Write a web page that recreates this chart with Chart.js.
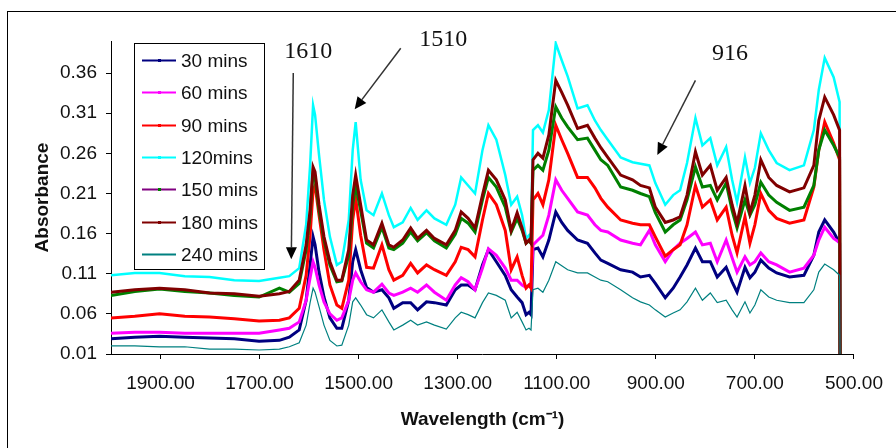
<!DOCTYPE html>
<html>
<head>
<meta charset="utf-8">
<title>Absorbance spectra</title>
<script src="https://cdn.jsdelivr.net/npm/chart.js@4.4.1/dist/chart.umd.min.js"></script>
<style>
  html, body { margin: 0; padding: 0; background: #fff; }
  #wrap { width: 896px; height: 448px; }
</style>
</head>
<body>
<div id="wrap"><canvas id="spectraChart" width="896" height="448"></canvas></div>
<script>
// wavenumbers (cm-1) of the sampled points, high to low; last point closes the trace at zero
const wavenumbers = [
    2000, 1952, 1902, 1851, 1801, 1751, 1701, 1660, 1640, 1620,
    1606, 1598, 1592, 1588, 1580, 1570, 1558, 1544, 1534, 1520,
    1512, 1506, 1496, 1484, 1470, 1453, 1439, 1429, 1411, 1395,
    1381, 1363, 1347, 1323, 1305, 1293, 1279, 1265, 1250, 1238,
    1222, 1204, 1192, 1180, 1170, 1162, 1156, 1152, 1148, 1138,
    1128, 1116, 1102, 1090, 1078, 1058, 1038, 1023, 1011, 997,
    971, 947, 931, 913, 901, 881, 865, 851, 837, 820,
    806, 790, 776, 758, 746, 736, 720, 710, 700, 688,
    672, 656, 630, 601, 581, 571, 559, 541, 529, 528
];

const abs30 = [
    0.029, 0.031, 0.032, 0.031, 0.030, 0.029, 0.026, 0.027, 0.031, 0.040,
    0.077, 0.121, 0.156, 0.146, 0.112, 0.081, 0.055, 0.042, 0.042, 0.077,
    0.125, 0.140, 0.115, 0.093, 0.087, 0.090, 0.080, 0.067, 0.074, 0.074,
    0.065, 0.075, 0.074, 0.071, 0.090, 0.096, 0.096, 0.090, 0.121, 0.140,
    0.125, 0.108, 0.090, 0.081, 0.074, 0.059, 0.062, 0.059, 0.140, 0.142,
    0.131, 0.152, 0.187, 0.174, 0.164, 0.152, 0.148, 0.136, 0.127, 0.123,
    0.115, 0.112, 0.106, 0.108, 0.098, 0.080, 0.092, 0.106, 0.121, 0.142,
    0.125, 0.125, 0.106, 0.118, 0.100, 0.087, 0.118, 0.105, 0.112, 0.127,
    0.117, 0.111, 0.106, 0.108, 0.133, 0.162, 0.177, 0.162, 0.148, 0
];
const abs60 = [
    0.036, 0.037, 0.037, 0.036, 0.036, 0.036, 0.036, 0.040, 0.042, 0.050,
    0.077, 0.105, 0.125, 0.118, 0.096, 0.075, 0.060, 0.052, 0.055, 0.077,
    0.102, 0.111, 0.100, 0.090, 0.087, 0.097, 0.086, 0.083, 0.087, 0.092,
    0.087, 0.096, 0.087, 0.077, 0.096, 0.105, 0.100, 0.090, 0.117, 0.141,
    0.133, 0.117, 0.102, 0.102, 0.096, 0.093, 0.096, 0.093, 0.146, 0.152,
    0.158, 0.183, 0.227, 0.214, 0.204, 0.187, 0.183, 0.171, 0.164, 0.162,
    0.152, 0.148, 0.146, 0.164, 0.146, 0.125, 0.140, 0.148, 0.154, 0.162,
    0.146, 0.148, 0.125, 0.152, 0.130, 0.112, 0.131, 0.121, 0.125, 0.136,
    0.125, 0.121, 0.112, 0.117, 0.133, 0.152, 0.168, 0.154, 0.149, 0
];
const abs90 = [
    0.055, 0.057, 0.060, 0.057, 0.056, 0.054, 0.051, 0.052, 0.055, 0.067,
    0.108, 0.158, 0.214, 0.220, 0.183, 0.140, 0.096, 0.071, 0.067, 0.102,
    0.177, 0.204, 0.158, 0.118, 0.117, 0.146, 0.115, 0.102, 0.108, 0.123,
    0.111, 0.121, 0.115, 0.108, 0.125, 0.143, 0.140, 0.131, 0.177, 0.210,
    0.196, 0.164, 0.115, 0.131, 0.108, 0.092, 0.096, 0.092, 0.202, 0.210,
    0.196, 0.227, 0.295, 0.277, 0.260, 0.230, 0.230, 0.217, 0.204, 0.193,
    0.177, 0.173, 0.171, 0.171, 0.156, 0.132, 0.140, 0.146, 0.171, 0.220,
    0.193, 0.202, 0.177, 0.193, 0.158, 0.136, 0.181, 0.148, 0.171, 0.210,
    0.189, 0.179, 0.173, 0.177, 0.218, 0.264, 0.299, 0.273, 0.252, 0
];
const abs120 = [
    0.108, 0.111, 0.111, 0.107, 0.106, 0.102, 0.101, 0.105, 0.107, 0.117,
    0.171, 0.245, 0.320, 0.308, 0.258, 0.202, 0.156, 0.121, 0.125, 0.177,
    0.264, 0.299, 0.227, 0.189, 0.183, 0.210, 0.183, 0.168, 0.174, 0.192,
    0.177, 0.189, 0.179, 0.171, 0.196, 0.230, 0.220, 0.210, 0.264, 0.295,
    0.277, 0.233, 0.196, 0.206, 0.183, 0.154, 0.158, 0.152, 0.289, 0.295,
    0.286, 0.314, 0.397, 0.376, 0.356, 0.316, 0.320, 0.301, 0.289, 0.277,
    0.255, 0.249, 0.247, 0.245, 0.223, 0.196, 0.208, 0.214, 0.248, 0.304,
    0.270, 0.279, 0.245, 0.268, 0.227, 0.199, 0.255, 0.223, 0.242, 0.285,
    0.264, 0.248, 0.239, 0.245, 0.289, 0.339, 0.379, 0.355, 0.324, 0
];
const abs150 = [
    0.083, 0.088, 0.091, 0.088, 0.086, 0.083, 0.081, 0.092, 0.087, 0.098,
    0.140, 0.183, 0.237, 0.230, 0.189, 0.152, 0.121, 0.100, 0.101, 0.133,
    0.196, 0.220, 0.189, 0.148, 0.142, 0.168, 0.142, 0.140, 0.148, 0.162,
    0.151, 0.161, 0.151, 0.142, 0.159, 0.179, 0.173, 0.162, 0.202, 0.230,
    0.218, 0.193, 0.162, 0.179, 0.164, 0.148, 0.151, 0.148, 0.239, 0.245,
    0.239, 0.264, 0.318, 0.304, 0.293, 0.277, 0.279, 0.264, 0.252, 0.245,
    0.218, 0.214, 0.210, 0.206, 0.186, 0.162, 0.171, 0.177, 0.202, 0.243,
    0.218, 0.220, 0.202, 0.223, 0.189, 0.167, 0.202, 0.183, 0.196, 0.224,
    0.208, 0.199, 0.189, 0.193, 0.220, 0.264, 0.289, 0.270, 0.255, 0
];
const abs180 = [
    0.087, 0.090, 0.092, 0.090, 0.086, 0.085, 0.082, 0.085, 0.088, 0.102,
    0.146, 0.189, 0.243, 0.237, 0.196, 0.156, 0.125, 0.102, 0.102, 0.140,
    0.208, 0.233, 0.196, 0.152, 0.146, 0.173, 0.146, 0.143, 0.152, 0.167,
    0.154, 0.164, 0.154, 0.146, 0.164, 0.187, 0.179, 0.167, 0.208, 0.239,
    0.227, 0.202, 0.164, 0.186, 0.167, 0.148, 0.152, 0.148, 0.252, 0.260,
    0.254, 0.283, 0.351, 0.336, 0.320, 0.291, 0.295, 0.279, 0.267, 0.255,
    0.233, 0.227, 0.220, 0.217, 0.193, 0.174, 0.177, 0.181, 0.208, 0.262,
    0.233, 0.245, 0.214, 0.230, 0.196, 0.173, 0.220, 0.186, 0.208, 0.252,
    0.230, 0.220, 0.212, 0.217, 0.245, 0.301, 0.330, 0.308, 0.289, 0
];
const abs240 = [
    0.020, 0.020, 0.019, 0.019, 0.016, 0.016, 0.015, 0.016, 0.019, 0.024,
    0.046, 0.074, 0.092, 0.087, 0.069, 0.046, 0.027, 0.020, 0.021, 0.046,
    0.075, 0.080, 0.071, 0.059, 0.055, 0.065, 0.050, 0.040, 0.046, 0.052,
    0.046, 0.050, 0.046, 0.041, 0.055, 0.062, 0.059, 0.055, 0.074, 0.086,
    0.083, 0.077, 0.055, 0.062, 0.050, 0.040, 0.042, 0.040, 0.090, 0.092,
    0.087, 0.102, 0.125, 0.120, 0.115, 0.111, 0.111, 0.106, 0.102, 0.100,
    0.090, 0.080, 0.075, 0.071, 0.065, 0.056, 0.061, 0.065, 0.075, 0.092,
    0.077, 0.086, 0.074, 0.077, 0.065, 0.056, 0.075, 0.061, 0.071, 0.090,
    0.081, 0.077, 0.074, 0.074, 0.090, 0.112, 0.122, 0.115, 0.108, 0
];

const seriesNames = ['30 mins', '60 mins', '90 mins', '120mins', '150 mins', '180 mins', '240 mins'];
const xTickValues = [1900, 1700, 1500, 1300, 1100, 900, 700, 500];
const yTickValues = [0.01, 0.06, 0.11, 0.16, 0.21, 0.26, 0.31, 0.36];
const peakLabels = ['1610', '1510', '916'];

const seriesData = [abs30, abs60, abs90, abs120, abs150, abs180, abs240];
const lineColors = ['#000080', '#FF00FF', '#FF0000', '#00FFFF', '#008000', '#800000', '#008080'];
const keyColors = ['#000080', '#FF00FF', '#FF0000', '#00FFFF', '#800080', '#800000', '#008080'];
const lineWidths = [3, 3, 3, 2.5, 3, 3, 1.2];

const sansFont = "'Liberation Sans', Arial, sans-serif";
Chart.defaults.font.family = sansFont;
Chart.defaults.color = '#111';

const datasets = seriesNames.map((name, i) => ({
    label: name,
    data: wavenumbers.map((w, j) => ({ x: w, y: seriesData[i][j] })),
    borderColor: lineColors[i],
    backgroundColor: lineColors[i],
    keyColor: keyColors[i],
    borderWidth: lineWidths[i],
    pointRadius: 0,
    tension: 0,
    order: -i  // later series are painted over earlier ones
}));

// frame of the whole chart object (left and top edges only are inside the canvas)
const chartFrame = {
    id: 'chartFrame',
    beforeDraw(chart) {
        const ctx = chart.ctx;
        ctx.save();
        ctx.strokeStyle = '#000';
        ctx.lineWidth = 1;
        ctx.strokeRect(7.5, 11.5, 900, 450);
        ctx.restore();
    }
};

// boxed key in the upper left of the plot
const keyBox = {
    id: 'keyBox',
    afterDraw(chart, args, opts) {
        const ctx = chart.ctx;
        ctx.save();
        ctx.fillStyle = '#fff';
        ctx.fillRect(opts.x, opts.y, opts.w, opts.h);
        ctx.strokeStyle = '#000';
        ctx.lineWidth = 1;
        ctx.strokeRect(opts.x + 0.5, opts.y + 0.5, opts.w, opts.h);
        ctx.font = '19px ' + sansFont;
        ctx.textBaseline = 'middle';
        ctx.textAlign = 'left';
        chart.data.datasets.forEach((ds, i) => {
            const y = Math.round(opts.y + opts.firstRow + i * opts.rowGap) + 0.5;
            ctx.strokeStyle = ds.keyColor;
            ctx.lineWidth = 2;
            ctx.beginPath();
            ctx.moveTo(opts.x + 8, y);
            ctx.lineTo(opts.x + 42, y);
            ctx.stroke();
            if (i < 6) {
                ctx.fillStyle = ds.borderColor;
                ctx.fillRect(opts.x + 24, y - 1.5, 3, 3);
            }
            ctx.fillStyle = '#111';
            ctx.fillText(ds.label, opts.x + 47, y + 1);
        });
        ctx.restore();
    }
};

// peak call-outs with arrows
const peakNotes = {
    id: 'peakNotes',
    afterDraw(chart, args, opts) {
        const ctx = chart.ctx;
        const xs = chart.scales.x, ys = chart.scales.y;
        const px = p => [xs.getPixelForValue(p[0]), ys.getPixelForValue(p[1])];
        ctx.save();
        opts.notes.forEach(n => {
            const [tx, ty] = px(n.textAt);
            ctx.fillStyle = '#111';
            ctx.font = "24px 'Liberation Serif', 'Times New Roman', serif";
            ctx.textAlign = 'center';
            ctx.textBaseline = 'middle';
            ctx.fillText(n.text, tx, ty);

            const [x0, y0] = px(n.from);
            const [x1, y1] = px(n.to);
            const ang = Math.atan2(y1 - y0, x1 - x0);
            const head = 12, half = 5.5;
            const bx = x1 - head * Math.cos(ang), by = y1 - head * Math.sin(ang);
            ctx.strokeStyle = '#333';
            ctx.lineWidth = 1.5;
            ctx.beginPath();
            ctx.moveTo(x0, y0);
            ctx.lineTo(bx, by);
            ctx.stroke();
            ctx.fillStyle = '#000';
            ctx.beginPath();
            ctx.moveTo(x1, y1);
            ctx.lineTo(bx + half * Math.sin(ang), by - half * Math.cos(ang));
            ctx.lineTo(bx - half * Math.sin(ang), by + half * Math.cos(ang));
            ctx.closePath();
            ctx.fill();
        });
        ctx.restore();
    }
};

new Chart(document.getElementById('spectraChart'), {
    type: 'line',
    data: { datasets: datasets },
    options: {
        responsive: false,
        animation: false,
        devicePixelRatio: 1,
        layout: { padding: { left: 0, top: 41, right: 38, bottom: 0 } },
        scales: {
            x: {
                type: 'linear',
                reverse: true,
                min: 500,
                max: 2000,
                afterBuildTicks: s => { s.ticks = xTickValues.map(v => ({ value: v })); },
                afterFit: s => { s.height = 94; },
                ticks: {
                    autoSkip: false,
                    maxRotation: 0,
                    padding: 13,
                    font: { size: 19 },
                    callback: v => Number(v).toFixed(2)
                },
                grid: { display: true, drawOnChartArea: false, drawTicks: true, tickLength: 5, color: '#000' },
                border: { display: true, color: '#000', width: 1 },
                title: {
                    display: true,
                    text: 'Wavelength (cm\u207B\u00B9)',
                    font: { size: 19, weight: 'bold' },
                    padding: { top: 0, bottom: 17 }
                }
            },
            y: {
                min: 0.01,
                max: 0.40,
                afterBuildTicks: s => { s.ticks = yTickValues.map(v => ({ value: v })); },
                afterFit: s => { s.width = 111; },
                ticks: {
                    padding: 9,
                    font: { size: 19 },
                    callback: v => Number(v).toFixed(2)
                },
                grid: { display: true, drawOnChartArea: false, drawTicks: true, tickLength: 5, color: '#000' },
                border: { display: true, color: '#000', width: 1 },
                title: {
                    display: true,
                    text: 'Absorbance',
                    font: { size: 19, weight: 'bold' },
                    padding: { top: 31, bottom: 0 }
                }
            }
        },
        plugins: {
            legend: { display: false },
            tooltip: { enabled: false },
            keyBox: { x: 134, y: 43, w: 130, h: 226, firstRow: 17, rowGap: 32.3 },
            peakNotes: {
                notes: [
                    { text: peakLabels[0], textAt: [1602, 0.387], from: [1632, 0.360], to: [1636, 0.128] },
                    { text: peakLabels[1], textAt: [1329, 0.402], from: [1415, 0.391], to: [1508, 0.315] },
                    { text: peakLabels[2], textAt: [750, 0.384], from: [820, 0.351], to: [897, 0.258] }
                ]
            }
        }
    },
    plugins: [chartFrame, keyBox, peakNotes]
});
</script>
</body>
</html>
